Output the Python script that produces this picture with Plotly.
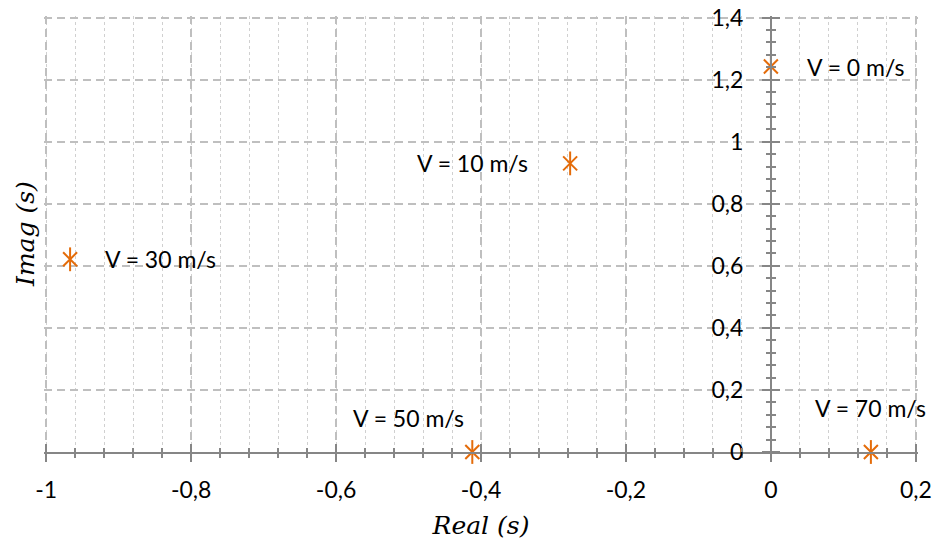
import plotly.graph_objects as go

# Data
labels = ["V = 0 m/s", "V = 10 m/s", "V = 30 m/s", "V = 50 m/s", "V = 70 m/s"]
real_vals = [0.0, -0.277, -0.967, -0.412, 0.138]
imag_vals = [1.242, 0.930, 0.621, 0.0, 0.0]

x_range = [-1.003, 0.203]
y_range = [0.0, 1.405]
x_ticks = [-1.0, -0.8, -0.6, -0.4, -0.2, 0.0, 0.2]
y_ticks = [0.0, 0.2, 0.4, 0.6, 0.8, 1.0, 1.2, 1.4]


def fmt(v):
    s = f"{v:.1f}".rstrip("0").rstrip(".")
    if s in ("-0", ""):
        s = "0"
    return s.replace(".", ",")


# label placement (style)
lab_anchor = ["left", "right", "left", "right", "center"]
lab_dx = [34, -40, 33, -6, 0]
lab_dy = [0, 0, 0, 34, 44]

ORANGE = "#E46C0A"
AXIS = "#868686"
GRID = "#BFBFBF"
FONT = "Lato"
FS = 23

fig = go.Figure()
fig.add_trace(go.Scatter(x=real_vals, y=imag_vals, mode="markers", cliponaxis=False,
                         marker=dict(symbol="x-thin-open", size=14, color=ORANGE,
                                     line=dict(color=ORANGE, width=2)),
                         showlegend=False, hoverinfo="skip"))
fig.add_trace(go.Scatter(x=real_vals, y=imag_vals, mode="markers", cliponaxis=False,
                         marker=dict(symbol="line-ns-open", size=17, color=ORANGE,
                                     line=dict(color=ORANGE, width=2)),
                         showlegend=False, hoverinfo="skip"))
# invisible trace for overlay axes (inside ticks)
fig.add_trace(go.Scatter(x=[real_vals[0]], y=[imag_vals[0]], xaxis="x2", yaxis="y2",
                         mode="markers", marker=dict(opacity=0), showlegend=False,
                         hoverinfo="skip"))

for lab, xv, yv, an, dx, dy in zip(labels, real_vals, imag_vals, lab_anchor, lab_dx, lab_dy):
    fig.add_annotation(x=xv, y=yv, text=lab, showarrow=False, xanchor=an,
                       yanchor="middle", xshift=dx, yshift=dy,
                       font=dict(family=FONT, size=FS, color="#000000"))

ypos = (0 - x_range[0]) / (x_range[1] - x_range[0])

common_font = dict(family=FONT, size=FS, color="#000000")
dash = "8px,5px"

fig.update_layout(
    width=935, height=546,
    margin=dict(l=44, r=17, t=16, b=94),
    plot_bgcolor="white", paper_bgcolor="white",
    xaxis=dict(range=x_range, tickmode="array", tickvals=x_ticks,
               ticktext=[fmt(v) for v in x_ticks], automargin=False,
               showgrid=True, gridcolor=GRID,
               griddash=dash, gridwidth=1.5, zeroline=False,
               showline=True, linecolor=AXIS, linewidth=2,
               ticks="outside", ticklen=8, tickwidth=2, tickcolor=AXIS,
               tickfont=common_font, ticklabelstandoff=8, anchor="y",
               minor=dict(tickmode="linear", tick0=-1, dtick=0.04, showgrid=True,
                          gridcolor="#D0D0D0", griddash="dot", gridwidth=1,
                          ticks="outside", ticklen=4, tickwidth=2, tickcolor=AXIS),
               title=dict(text="Real (s)", font=dict(family="DejaVu Serif", size=25,
                                                      color="#000000", style="italic"),
                          standoff=15)),
    yaxis=dict(range=y_range, tickmode="array", tickvals=y_ticks,
               ticktext=[fmt(v) for v in y_ticks], automargin=False,
               showgrid=True, gridcolor=GRID,
               griddash=dash, gridwidth=1.5, zeroline=False,
               showline=True, linecolor=AXIS, linewidth=2,
               anchor="free", position=ypos,
               ticks="outside", ticklen=8, tickwidth=2, tickcolor=AXIS,
               tickfont=common_font, ticklabelstandoff=14,
               minor=dict(tickmode="linear", tick0=0, dtick=0.04, showgrid=False,
                          ticks="outside", ticklen=4, tickwidth=2, tickcolor=AXIS)),
    xaxis2=dict(range=x_range, overlaying="x", anchor="y2", dtick=0.2, tick0=-1,
                automargin=False,
                showgrid=False, zeroline=False, showline=False, showticklabels=False,
                ticks="inside", ticklen=8, tickwidth=2, tickcolor=AXIS,
                minor=dict(dtick=0.04, tick0=-1, ticks="inside", ticklen=4, tickwidth=2,
                           tickcolor=AXIS, showgrid=False)),
    yaxis2=dict(range=y_range, overlaying="y", anchor="free", position=ypos,
                automargin=False,
                dtick=0.2, tick0=0, showgrid=False, zeroline=False, showline=False,
                showticklabels=False, side="right",
                ticks="outside", ticklen=8, tickwidth=2, tickcolor=AXIS,
                minor=dict(dtick=0.04, tick0=0, ticks="outside", ticklen=4, tickwidth=2,
                           tickcolor=AXIS, showgrid=False)),
)

fig.add_annotation(xref="paper", yref="paper", x=0, y=0.5, xshift=-19,
                   text="Imag (s)", textangle=-90, showarrow=False,
                   xanchor="center", yanchor="middle",
                   font=dict(family="DejaVu Serif", size=25, color="#000000", style="italic"))

fig.write_html("out.html")
